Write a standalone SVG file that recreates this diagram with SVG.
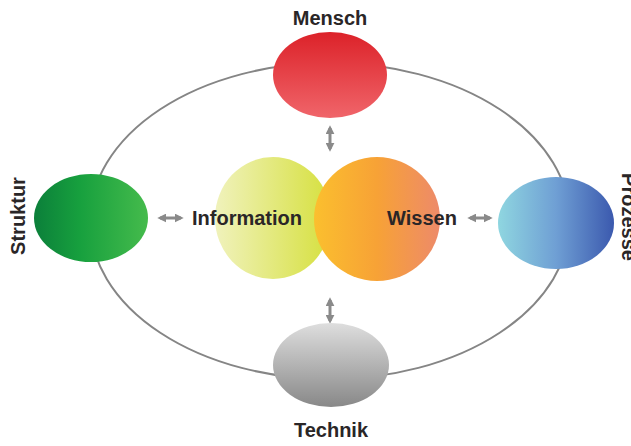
<svg xmlns="http://www.w3.org/2000/svg" width="631" height="446" viewBox="0 0 631 446">
<defs>
<style>
.lbl{font-family:"Liberation Sans",Arial,sans-serif;font-weight:bold;font-size:20px;fill:#2a2627;text-anchor:middle}
.ring{fill:none;stroke:#858585;stroke-width:2}
.arr{stroke:#8a8a8a;stroke-width:3;fill:none;marker-start:url(#ah);marker-end:url(#ah)}
</style>
<marker id="ah" viewBox="0 0 10 10" refX="7" refY="5" markerWidth="3" markerHeight="3" orient="auto-start-reverse" markerUnits="strokeWidth">
<path d="M0,0 L10,5 L0,10 z" fill="#8a8a8a"/>
</marker>
<linearGradient id="gRed" x1="0" y1="0" x2="0" y2="1">
<stop offset="0" stop-color="#dc2229"/>
<stop offset="1" stop-color="#f0656a"/>
</linearGradient>
<linearGradient id="gGreen" x1="0" y1="0" x2="1" y2="0">
<stop offset="0" stop-color="#0b7f3a"/>
<stop offset="0.4" stop-color="#17a03e"/>
<stop offset="1" stop-color="#45bb4c"/>
</linearGradient>
<linearGradient id="gBlue" x1="0" y1="0" x2="1" y2="0">
<stop offset="0" stop-color="#8fd6e0"/>
<stop offset="0.5" stop-color="#6f9fd4"/>
<stop offset="1" stop-color="#3b59ae"/>
</linearGradient>
<linearGradient id="gGray" x1="0" y1="0" x2="0" y2="1">
<stop offset="0" stop-color="#dedede"/>
<stop offset="1" stop-color="#888888"/>
</linearGradient>
<linearGradient id="gYel" x1="0" y1="0" x2="1" y2="0">
<stop offset="0" stop-color="#f0f2bc"/>
<stop offset="1" stop-color="#d6e03e"/>
</linearGradient>
<linearGradient id="gOr" x1="0" y1="0" x2="1" y2="0">
<stop offset="0" stop-color="#fbbf2e"/>
<stop offset="0.5" stop-color="#f7a236"/>
<stop offset="1" stop-color="#ed8a6a"/>
</linearGradient>
</defs>
<rect width="631" height="446" fill="#ffffff"/>
<g id="connectors">
<ellipse class="ring" cx="330" cy="221" rx="240" ry="158"/>
<line class="arr" x1="160" y1="218" x2="181" y2="218"/>
<line class="arr" x1="470" y1="218" x2="490" y2="218"/>
<line class="arr" x1="330" y1="128" x2="330" y2="149"/>
<line class="arr" x1="330" y1="300" x2="330" y2="321"/>
</g>
<g id="mensch">
<ellipse cx="330" cy="75" rx="57" ry="43" fill="url(#gRed)"/>
<text class="lbl" x="330" y="25">Mensch</text>
</g>
<g id="struktur">
<ellipse cx="91" cy="218" rx="57" ry="44" fill="url(#gGreen)"/>
<text class="lbl" transform="translate(25,216) rotate(-90)">Struktur</text>
</g>
<g id="prozesse">
<ellipse cx="556" cy="223" rx="58" ry="46" fill="url(#gBlue)"/>
<text class="lbl" transform="translate(622,217) rotate(90)">Prozesse</text>
</g>
<g id="technik">
<ellipse cx="331" cy="365" rx="58" ry="42" fill="url(#gGray)"/>
<text class="lbl" x="331" y="437">Technik</text>
</g>
<g id="information">
<ellipse cx="273" cy="218" rx="58" ry="61" fill="url(#gYel)"/>
</g>
<g id="wissen">
<ellipse cx="377" cy="219" rx="63" ry="62" fill="url(#gOr)"/>
</g>
<g id="center-labels">
<text class="lbl" x="247" y="225">Information</text>
<text class="lbl" x="422" y="225">Wissen</text>
</g>
</svg>
